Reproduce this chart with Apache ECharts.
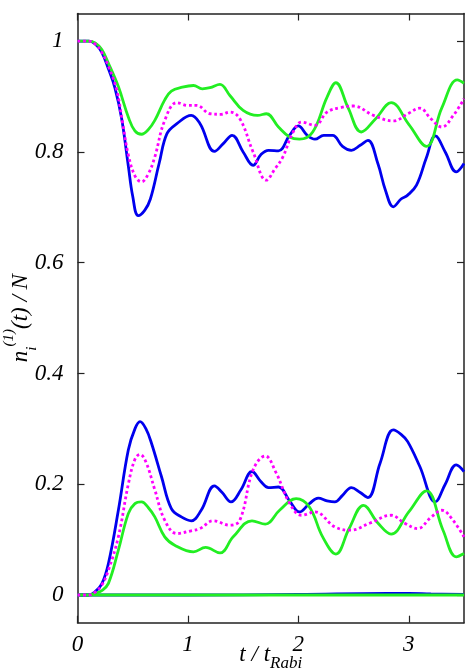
<!DOCTYPE html>
<html>
<head>
<meta charset="utf-8">
<script src="https://cdn.jsdelivr.net/npm/echarts@6/dist/echarts.min.js"></script>
<style>html,body{margin:0;padding:0;background:#fff}#c{width:469px;height:670px}</style>
</head>
<body>
<div id="c"></div>
<script>
// ---- data ----
const xTicks = [0, 1, 2, 3];
const yTicks = [0, 0.2, 0.4, 0.6, 0.8, 1];

const tBlueUp = [0,0.1,0.16,0.22,0.28,0.34,0.40,0.46,0.50,0.55,0.61,0.66,0.74,0.81,0.90,1.03,1.11,1.24,1.32,1.40,1.50,1.59,1.66,1.73,1.82,1.92,2.0,2.08,2.15,2.23,2.31,2.40,2.48,2.56,2.63,2.72,2.79,2.86,2.93,2.99,3.07,3.16,3.24,3.33,3.43,3.5];
const vBlueUp = [1,1,0.995,0.98,0.95,0.915,0.86,0.775,0.72,0.685,0.695,0.715,0.78,0.833,0.851,0.866,0.851,0.801,0.815,0.830,0.80,0.776,0.795,0.803,0.802,0.83,0.847,0.83,0.823,0.83,0.83,0.81,0.803,0.812,0.821,0.779,0.73,0.701,0.715,0.722,0.74,0.79,0.829,0.80,0.764,0.779];

const tBlueLow = [0,0.1,0.16,0.22,0.28,0.37,0.46,0.52,0.566,0.62,0.67,0.76,0.85,0.94,1.03,1.12,1.24,1.31,1.39,1.48,1.58,1.66,1.73,1.82,1.92,2.01,2.10,2.18,2.26,2.33,2.40,2.48,2.56,2.63,2.74,2.86,2.93,2.99,3.10,3.24,3.33,3.43,3.5];
const vBlueLow = [0,0,0.006,0.02,0.057,0.153,0.262,0.30,0.313,0.30,0.274,0.214,0.156,0.141,0.134,0.153,0.197,0.185,0.168,0.19,0.223,0.205,0.194,0.195,0.17,0.150,0.165,0.175,0.17,0.168,0.18,0.194,0.185,0.176,0.238,0.298,0.29,0.277,0.232,0.168,0.20,0.235,0.223];

const tMagUp = [0,0.1,0.16,0.22,0.28,0.355,0.41,0.46,0.52,0.58,0.64,0.70,0.79,0.90,1.0,1.08,1.2,1.30,1.38,1.47,1.59,1.71,1.79,1.86,1.95,2.03,2.15,2.26,2.38,2.50,2.68,2.86,3.0,3.10,3.20,3.30,3.40,3.5];
const vMagUp = [1,1,0.995,0.98,0.955,0.912,0.85,0.795,0.757,0.746,0.76,0.791,0.857,0.889,0.884,0.884,0.869,0.868,0.872,0.86,0.80,0.749,0.77,0.791,0.835,0.854,0.848,0.872,0.88,0.883,0.866,0.856,0.87,0.879,0.86,0.845,0.865,0.896];

const tMagLow = [0,0.1,0.16,0.22,0.28,0.37,0.46,0.52,0.566,0.62,0.70,0.79,0.90,1.03,1.11,1.23,1.38,1.47,1.59,1.70,1.80,1.92,2.03,2.15,2.33,2.47,2.65,2.84,2.96,3.08,3.20,3.30,3.40,3.5];
const vMagLow = [0,0,0.005,0.018,0.045,0.105,0.2,0.245,0.254,0.24,0.19,0.135,0.111,0.116,0.12,0.134,0.126,0.135,0.226,0.251,0.22,0.166,0.144,0.150,0.123,0.117,0.13,0.144,0.13,0.120,0.14,0.153,0.135,0.105];

const tGreenUp = [0,0.1,0.16,0.22,0.28,0.37,0.46,0.52,0.58,0.64,0.70,0.79,0.85,0.95,1.05,1.13,1.2,1.29,1.38,1.50,1.63,1.71,1.82,1.92,2.01,2.13,2.26,2.34,2.45,2.57,2.70,2.84,3.0,3.16,3.30,3.44,3.5];
const vGreenUp = [1,1,0.997,0.985,0.96,0.918,0.863,0.838,0.832,0.84,0.857,0.894,0.91,0.917,0.92,0.914,0.916,0.922,0.902,0.875,0.866,0.869,0.845,0.827,0.823,0.836,0.899,0.925,0.88,0.836,0.86,0.889,0.85,0.81,0.88,0.93,0.924];

const tGreenLow = [0,0.1,0.16,0.22,0.28,0.37,0.46,0.52,0.58,0.64,0.70,0.79,0.88,1.05,1.16,1.29,1.41,1.58,1.70,1.83,1.98,2.10,2.22,2.34,2.46,2.59,2.72,2.84,3.0,3.16,3.31,3.43,3.5];
const vGreenLow = [0,0,0.003,0.008,0.021,0.081,0.147,0.165,0.168,0.158,0.141,0.105,0.09,0.078,0.086,0.076,0.105,0.134,0.128,0.153,0.174,0.159,0.105,0.074,0.12,0.162,0.13,0.110,0.15,0.188,0.117,0.069,0.075];

const tZero = [0, 1, 2, 2.8, 3.0, 3.2, 3.5];
const vBlueZero = [0, 0, 0.001, 0.003, 0.003, 0.002, 0.001];
const vGreenZero = [0, 0, 0, 0, 0, 0, 0];

// ---- chart ----
const pairs = (t, v) => t.map((x, i) => [x, v[i]]);
const BLUE = '#0000ee', MAG = '#ff00ff', GREEN = '#22ee22';
const FONT = 'Liberation Serif';
const lbl = {fontFamily: FONT, fontStyle: 'italic', fontSize: 23, color: '#000'};
const axLine = {show: true, onZero: false, lineStyle: {color: '#222', width: 1.5}};
const tick = vals => ({show: true, inside: true, length: 7, customValues: vals, lineStyle: {color: '#222', width: 1.2}});

function line(t, v, color, dotted) {
  return {
    type: 'line', data: pairs(t, v), showSymbol: false, smooth: 0.4,
    lineStyle: {color, width: 2.8, type: dotted ? [2.8, 2.8] : 'solid', cap: 'butt'},
    itemStyle: {color}, silent: true, animation: false, clip: true
  };
}

const chart = echarts.init(document.getElementById('c'), null, {renderer: 'canvas'});
chart.setOption({
  animation: false,
  backgroundColor: '#fff',
  grid: {left: 77.5, right: 5, top: 13.5, bottom: 47.3, containLabel: false, outerBoundsMode: 'none'},
  xAxis: [
    {type: 'value', position: 'bottom', min: 0, max: 3.5,
     axisLine: axLine, axisTick: tick(xTicks),
     axisLabel: Object.assign({customValues: xTicks, margin: 11}, lbl),
     splitLine: {show: false},
     name: '{n|t / t}{sub|Rabi}', nameLocation: 'middle', nameGap: 15, nameMoveOverlap: false,
     nameTextStyle: {rich: {
       n: {fontFamily: FONT, fontStyle: 'italic', fontSize: 23, color: '#000', lineHeight: 34, verticalAlign: 'middle'},
       sub: {fontFamily: FONT, fontStyle: 'italic', fontSize: 17, color: '#000', lineHeight: 34, verticalAlign: 'bottom'}
     }}},
    {type: 'value', position: 'top', min: 0, max: 3.5,
     axisLine: axLine, axisTick: tick(xTicks),
     axisLabel: {show: false}, splitLine: {show: false}}
  ],
  yAxis: [
    {type: 'value', position: 'left', min: -0.05, max: 1.05,
     axisLine: axLine, axisTick: tick(yTicks),
     axisLabel: Object.assign({customValues: yTicks, margin: 14}, lbl),
     splitLine: {show: false},
     name: '{n|n}{sub|i}{sup|(1)}{n|(t) / N}', nameLocation: 'middle', nameGap: 38, nameRotate: 90, nameMoveOverlap: false,
     nameTextStyle: {rich: {
       n: {fontFamily: FONT, fontStyle: 'italic', fontSize: 23, color: '#000', lineHeight: 38, verticalAlign: 'middle'},
       sub: {fontFamily: FONT, fontStyle: 'italic', fontSize: 15, color: '#000', lineHeight: 38, verticalAlign: 'bottom'},
       sup: {fontFamily: FONT, fontStyle: 'italic', fontSize: 15, color: '#000', lineHeight: 38, verticalAlign: 'top'}
     }}},
    {type: 'value', position: 'right', min: -0.05, max: 1.05,
     axisLine: axLine, axisTick: tick(yTicks),
     axisLabel: {show: false}, splitLine: {show: false}}
  ],
  series: [
    line(tZero, vBlueZero, BLUE, false),
    line(tZero, vGreenZero, GREEN, false),
    line(tBlueUp, vBlueUp, BLUE, false),
    line(tBlueLow, vBlueLow, BLUE, false),
    line(tGreenUp, vGreenUp, GREEN, false),
    line(tGreenLow, vGreenLow, GREEN, false),
    line(tMagUp, vMagUp, MAG, true),
    line(tMagLow, vMagLow, MAG, true)
  ]
});
</script>
</body>
</html>
